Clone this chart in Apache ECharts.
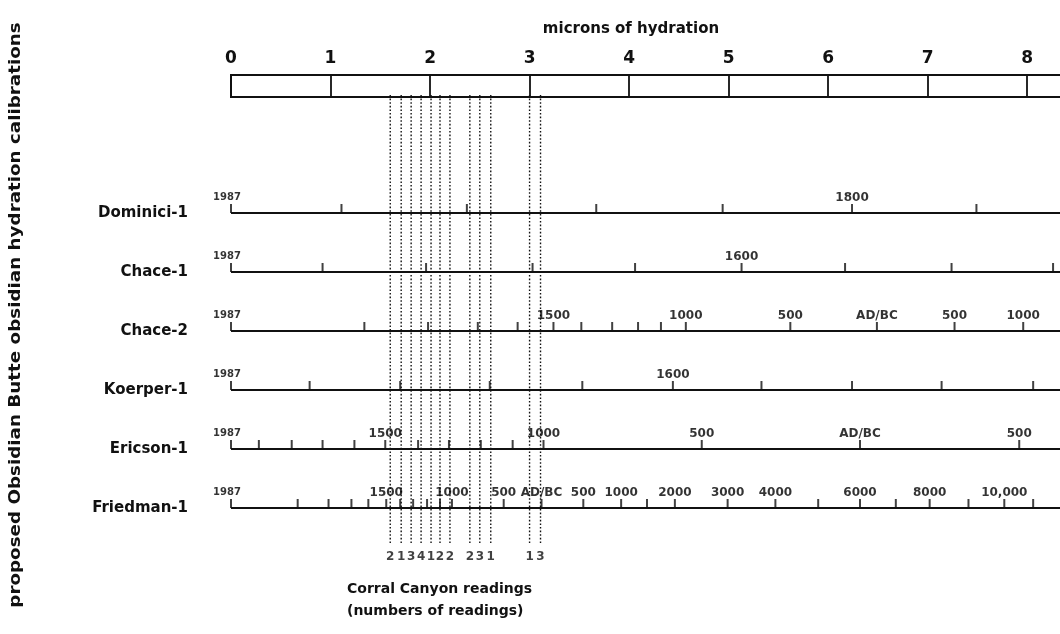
<!DOCTYPE html>
<html>
<head>
<meta charset="utf-8">
<script src="https://cdn.jsdelivr.net/npm/echarts@6/dist/echarts.min.js"></script>
<style>
  html, body { margin: 0; padding: 0; background: #fff; }
  #chart { width: 1060px; height: 634px; }
</style>
</head>
<body>
<div id="chart"></div>
<script>
// Calibrations proposees (lignes) et graduations, en microns
const rows = ["Dominici-1", "Chace-1", "Chace-2", "Koerper-1", "Ericson-1", "Friedman-1"];

const dominiciTicks = [0, 1.11, 2.37, 3.67, 4.94, 6.24, 7.49];
const chace1Ticks = [0, 0.92, 1.96, 3.03, 4.06, 5.13, 6.17, 7.24, 8.26];
const chace2Ticks = [0, 1.34, 1.98, 2.48, 2.88, 3.24, 3.52, 3.83, 4.09, 4.32, 4.57, 5.62, 6.49, 7.27, 7.96];
const koerperTicks = [0, 0.79, 1.70, 2.60, 3.53, 4.44, 5.33, 6.24, 7.14, 8.06];
const ericsonTicks = [0, 0.28, 0.61, 0.92, 1.24, 1.55, 1.88, 2.19, 2.51, 2.83, 3.14, 4.73, 6.32, 7.92];
const friedmanTicks = [0, 0.67, 0.98, 1.21, 1.38, 1.56, 1.70, 1.83, 1.97, 2.10, 2.22, 2.74, 3.12, 3.54,
  3.92, 4.18, 4.46, 4.99, 5.47, 5.90, 6.32, 6.68, 7.02, 7.41, 7.77, 8.06];

// [microns, texte]
const dominiciLabels = [[6.24, "1800"]];
const chace1Labels = [[5.13, "1600"]];
const chace2Labels = [[3.24, "1500"], [4.57, "1000"], [5.62, "500"], [6.49, "AD/BC"], [7.27, "500"], [7.96, "1000"]];
const koerperLabels = [[4.44, "1600"]];
const ericsonLabels = [[1.55, "1500"], [3.14, "1000"], [4.73, "500"], [6.32, "AD/BC"], [7.92, "500"]];
const friedmanLabels = [[1.56, "1500"], [2.22, "1000"], [2.74, "500"], [3.12, "AD/BC"], [3.54, "500"],
  [3.92, "1000"], [4.46, "2000"], [4.99, "3000"], [5.47, "4000"], [6.32, "6000"], [7.02, "8000"], [7.77, "10,000"]];
const startYear = "1987";

// Lectures de Corral Canyon : position (microns) et nombre de lectures
const readings = [1.60, 1.71, 1.81, 1.91, 2.01, 2.10, 2.20, 2.40, 2.50, 2.61, 3.00, 3.11];
const readingCounts = [2, 1, 3, 4, 1, 2, 2, 2, 3, 1, 1, 3];

const rowTicks = [dominiciTicks, chace1Ticks, chace2Ticks, koerperTicks, ericsonTicks, friedmanTicks];
const rowLabels = [dominiciLabels, chace1Labels, chace2Labels, koerperLabels, ericsonLabels, friedmanLabels];

const FONT = "DejaVu Sans";
const INK = "#111";
const X_MAX = 8.4;
const LINE_END = 5.6;
const COUNT_Y = 5.82;

const chart = echarts.init(document.getElementById("chart"));

const series = [];

// lignes pointillees des lectures
readings.forEach((r) => {
  series.push({
    type: "line",
    xAxisIndex: 1,
    yAxisIndex: 1,
    data: [[r, -2], [r, LINE_END]],
    showSymbol: false,
    silent: true,
    lineStyle: { color: "#111", width: 1.4, type: [1.6, 2] },
    z: 1
  });
});

series.push({
  type: "scatter",
  xAxisIndex: 1,
  yAxisIndex: 1,
  symbolSize: 0,
  silent: true,
  data: readings.map((r, i) => ({ value: [r, COUNT_Y], count: readingCounts[i] })),
  label: {
    show: true,
    position: "inside",
    formatter: (p) => String(p.data.count),
    fontFamily: FONT,
    fontWeight: "bold",
    fontSize: 12,
    color: INK
  }
});

// lignes de base des calibrations
rows.forEach((name, i) => {
  series.push({
    type: "line",
    xAxisIndex: 1,
    yAxisIndex: 1,
    data: [[0, i], [X_MAX, i]],
    showSymbol: false,
    silent: true,
    lineStyle: { color: INK, width: 2 },
    z: 3
  });
});

// graduations
series.push({
  type: "scatter",
  xAxisIndex: 1,
  yAxisIndex: 1,
  symbol: "rect",
  symbolSize: [2, 9],
  symbolOffset: [0, -4.5],
  silent: true,
  itemStyle: { color: INK },
  data: rowTicks.flatMap((ticks, i) => ticks.map((t) => [t, i])),
  z: 4
});

// etiquettes des graduations
series.push({
  type: "scatter",
  xAxisIndex: 1,
  yAxisIndex: 1,
  symbolSize: 0,
  silent: true,
  data: rowLabels.flatMap((labels, i) => labels.map(([t, txt]) => ({ value: [t, i], txt }))),
  label: {
    show: true,
    position: "top",
    distance: 9,
    formatter: (p) => p.data.txt,
    fontFamily: FONT,
    fontWeight: "bold",
    fontSize: 12,
    color: "#000"
  },
  z: 5
});

// annee de depart
series.push({
  type: "scatter",
  xAxisIndex: 1,
  yAxisIndex: 1,
  symbolSize: 0,
  silent: true,
  data: rows.map((_, i) => [0, i]),
  label: {
    show: true,
    position: "top",
    distance: 11,
    offset: [-4, 0],
    formatter: startYear,
    fontFamily: FONT,
    fontWeight: "bold",
    fontSize: 10,
    color: "#000"
  },
  z: 5
});

chart.setOption({
  animation: false,
  backgroundColor: "#fff",
  grid: [
    {
      left: 231, top: 75, width: 836, height: 22, outerBoundsMode: "none",
      show: true, borderColor: INK, borderWidth: 2, backgroundColor: "transparent"
    },
    { left: 231, top: 95, width: 836, height: 472, outerBoundsMode: "none" }
  ],
  xAxis: [
    {
      gridIndex: 0,
      type: "value",
      position: "top",
      min: 0,
      max: X_MAX,
      interval: 1,
      axisLine: { show: true, lineStyle: { color: INK, width: 2 } },
      axisTick: { show: false },
      axisLabel: {
        fontFamily: FONT, fontWeight: "bold", fontSize: 17, color: INK, margin: 8,
        formatter: (v) => (v === X_MAX ? "" : String(v))
      },
      splitLine: { show: true, lineStyle: { color: INK, width: 1.8 } }
    },
    {
      gridIndex: 1,
      type: "value",
      min: 0,
      max: X_MAX,
      show: false
    }
  ],
  yAxis: [
    { gridIndex: 0, type: "value", min: 0, max: 1, show: false },
    {
      gridIndex: 1,
      type: "value",
      inverse: true,
      min: -2,
      max: 6,
      interval: 1,
      axisLine: { show: false },
      axisTick: { show: false },
      splitLine: { show: false },
      axisLabel: {
        margin: 43,
        fontFamily: FONT,
        fontWeight: "bold",
        fontSize: 15,
        color: INK,
        formatter: (v) => rows[v] ?? ""
      }
    }
  ],
  graphic: [
    {
      type: "text",
      x: 631,
      y: 22,
      style: { text: "microns of hydration", fontFamily: FONT, fontWeight: "bold", fontSize: 15, fill: INK, textAlign: "center" }
    },
    {
      type: "text",
      x: 16,
      y: 315,
      rotation: Math.PI / 2,
      scaleX: 1.22,
      style: {
        text: "proposed Obsidian Butte obsidian hydration calibrations",
        fontFamily: FONT, fontWeight: "bold", fontSize: 15, fill: INK,
        textAlign: "center", textVerticalAlign: "middle"
      }
    },
    {
      type: "text",
      x: 347,
      y: 582,
      style: { text: "Corral Canyon readings", fontFamily: FONT, fontWeight: "bold", fontSize: 14, fill: INK }
    },
    {
      type: "text",
      x: 347,
      y: 604,
      style: { text: "(numbers of readings)", fontFamily: FONT, fontWeight: "bold", fontSize: 14, fill: INK }
    }
  ],
  series
});
</script>
</body>
</html>
